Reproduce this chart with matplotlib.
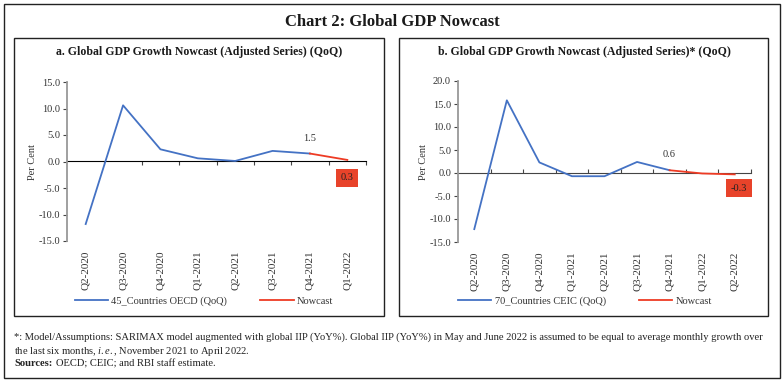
import matplotlib.pyplot as plt
from matplotlib.patches import Rectangle

# Panel a: 45 countries OECD
quarters_a = ['Q2-2020', 'Q3-2020', 'Q4-2020', 'Q1-2021', 'Q2-2021',
              'Q3-2021', 'Q4-2021', 'Q1-2022']
oecd_qoq = [-11.8, 10.6, 2.3, 0.6, 0.1, 2.0, 1.5, None]
nowcast_a = [None, None, None, None, None, None, 1.5, 0.3]

# Panel b: 70 countries CEIC
quarters_b = ['Q2-2020', 'Q3-2020', 'Q4-2020', 'Q1-2021', 'Q2-2021',
              'Q3-2021', 'Q4-2021', 'Q1-2022', 'Q2-2022']
ceic_qoq = [-12.2, 15.8, 2.3, -0.7, -0.7, 2.4, 0.6, None, None]
nowcast_b = [None, None, None, None, None, None, 0.6, -0.1, -0.3]

blue = '#4472C4'
red = '#EE3B24'
box_red = '#E8432A'
plt.rcParams['font.family'] = ['Liberation Serif', 'DejaVu Serif']
plt.rcParams['mathtext.fontset'] = 'custom'
plt.rcParams['mathtext.it'] = 'Liberation Serif:italic'
plt.rcParams['mathtext.rm'] = 'Liberation Serif'

W, H = 784, 382
fig = plt.figure(figsize=(W / 100, H / 100), dpi=100)


def px_rect(x0, y0, x1, y1):
    return [x0 / W, 1 - y1 / H, (x1 - x0) / W, (y1 - y0) / H]


def frame(x0, y0, x1, y1, lw=1.0):
    fig.patches.append(Rectangle((x0 / W, 1 - y1 / H), (x1 - x0) / W, (y1 - y0) / H,
                                 transform=fig.transFigure, fill=False,
                                 edgecolor='#222222', lw=lw))


frame(4, 4, 780, 378, lw=1.0)
frame(14, 38, 384, 316, lw=1.0)
frame(399, 38, 768, 316, lw=1.0)

fig.text(392 / W, 1 - 22 / H, 'Chart 2: Global GDP Nowcast', ha='center', va='center',
         fontsize=12, fontweight='bold', color='#1a1a1a')
fig.text(199 / W, 1 - 52 / H, 'a. Global GDP Growth Nowcast (Adjusted Series) (QoQ)',
         ha='center', va='center', fontsize=8.5, fontweight='bold', color='#1a1a1a')
fig.text(584 / W, 1 - 52 / H, 'b. Global GDP Growth Nowcast (Adjusted Series)* (QoQ)',
         ha='center', va='center', fontsize=8.5, fontweight='bold', color='#1a1a1a')


def panel(rect, cats, actual, nowcast, ylim, yticks, label_actual,
          up_idx, up_text, box_idx, box_text, box_dx, box_dy, leg_x):
    ax = fig.add_axes(rect)
    x = list(range(len(cats)))
    xa = [i for i, v in zip(x, actual) if v is not None]
    ya = [v for v in actual if v is not None]
    xn = [i for i, v in zip(x, nowcast) if v is not None]
    yn = [v for v in nowcast if v is not None]
    l1, = ax.plot(xa, ya, color=blue, lw=1.3, label=label_actual)
    l2, = ax.plot(xn, yn, color=red, lw=1.3, label='Nowcast')
    ax.set_xlim(-0.5, len(cats) - 0.5)
    ax.set_ylim(*ylim)
    ax.set_yticks(yticks)
    ax.set_yticklabels(['%.1f' % t for t in yticks], fontsize=7.5, color='#333333')
    ax.tick_params(axis='y', direction='out', length=3, color='#444444', pad=2)

    # category labels along the bottom of the axes
    ax.set_xticks(x)
    ax.set_xticklabels(cats)
    ax.tick_params(axis='x', length=0, pad=7, labelsize=8, labelcolor='#333333',
                   labelrotation=90)
    ax.spines['bottom'].set_visible(False)
    ax.spines['top'].set_visible(False)
    ax.spines['right'].set_visible(False)
    ax.spines['left'].set_color('#999999')
    ax.spines['left'].set_linewidth(1.3)

    # zero line with boundary ticks
    zero = (0 - ylim[0]) / (ylim[1] - ylim[0])
    sec = ax.secondary_xaxis(zero)
    sec.set_xticks([i + 0.5 for i in x])
    sec.set_xticklabels([])
    sec.tick_params(direction='in', length=3, color='#444444')
    sec.spines['bottom'].set_color('#444444')

    ax.patch.set_alpha(0)
    ax.set_ylabel('Per Cent', fontsize=7.5, color='#333333', labelpad=1)
    ax.annotate(up_text, (up_idx, nowcast[up_idx]), xytext=(0, 11),
                textcoords='offset points', ha='center', va='center',
                fontsize=7.5, color='#333333')
    ax.annotate(box_text, (box_idx, nowcast[box_idx]), xytext=(box_dx, box_dy),
                textcoords='offset points', ha='center', va='center',
                fontsize=7.5, color='#222222',
                bbox=dict(boxstyle='square,pad=0.45', fc=box_red, ec='none'))
    fig.legend(handles=[l1, l2], loc='center', bbox_to_anchor=(leg_x / W, 1 - 301 / H),
               ncol=2, frameon=False, fontsize=7.5, handlelength=3.2,
               columnspacing=3.2, handletextpad=0.3, labelcolor='#333333')
    return ax


panel(px_rect(67, 82, 366, 241), quarters_a, oecd_qoq, nowcast_a,
      (-15, 15), [-15, -10, -5, 0, 5, 10, 15], '45_Countries OECD (QoQ)',
      6, '1.5', 7, '0.3', 0, -13, 204)
panel(px_rect(458, 81, 751, 242), quarters_b, ceic_qoq, nowcast_b,
      (-15, 20), [-15, -10, -5, 0, 5, 10, 15, 20], '70_Countries CEIC (QoQ)',
      6, '0.6', 8, '-0.3', 3, -10, 585)

fs = 7.6
foot = ('*: Model/Assumptions: SARIMAX model augmented with global IIP (YoY%). Global IIP (YoY%) '
        'in May and June 2022 is assumed to be equal to average monthly growth over')
fig.text(14 / W, 1 - 337 / H, foot, ha='left', va='center', fontsize=fs, color='#222222')
fig.text(14 / W, 1 - 351 / H, 'the last six months, $\\mathit{i.e.}$, November 2021 to April 2022.',
         ha='left', va='center', fontsize=fs, color='#222222')
fig.text(14 / W, 1 - 364 / H, 'Sources:', ha='left', va='center', fontsize=fs,
         fontweight='bold', color='#222222')
fig.text(56 / W, 1 - 364 / H, 'OECD; CEIC; and RBI staff estimate.', ha='left', va='center',
         fontsize=fs, color='#222222')

fig.savefig('out.png', dpi=100)
